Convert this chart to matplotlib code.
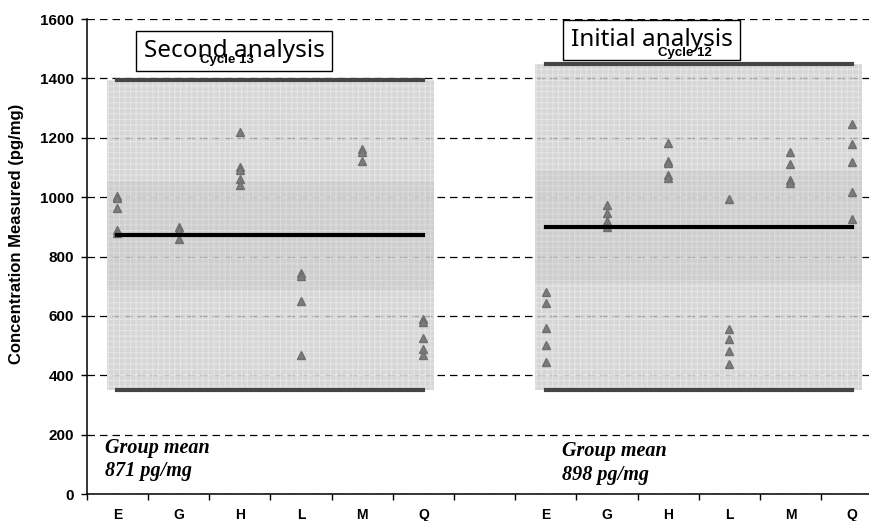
import numpy as np
import matplotlib.pyplot as plt
from matplotlib.patches import Rectangle

plt.rcParams['font.family'] = ['Liberation Sans', 'DejaVu Sans']
plt.rcParams['hatch.linewidth'] = 0.8

## laboratories, same order in both panels
labs = ['E', 'G', 'H', 'L', 'M', 'Q']
tick_labels = labs + [''] + labs

# second analysis (cycle 13), pg/mg
second_vals = [
    [1005, 998, 965, 888, 880],
    [900, 888, 860],
    [1218, 1100, 1090, 1060, 1040],
    [745, 735, 650, 468],
    [1162, 1152, 1122],
    [590, 580, 524, 490, 468],
]
# initial analysis (cycle 12), pg/mg
initial_vals = [
    [681, 642, 560, 502, 444],
    [975, 948, 920, 900],
    [1181, 1122, 1116, 1075, 1063],
    [995, 556, 522, 483, 437],
    [1153, 1110, 1057, 1048],
    [1246, 1178, 1119, 1018, 928],
]
second_mean = 871
initial_mean = 898
second_upper = 1395
initial_upper = 1450
lower_limit = 350

fig = plt.figure(figsize=(8.69, 5.21), dpi=100)
ax = fig.add_axes([0.0998, 0.0518, 0.9155, 0.9117])
ax.set_xlim(-0.5, 12.5)
ax.set_ylim(0, 1600)

for s in ['top', 'right']:
    ax.spines[s].set_visible(False)
ax.spines['left'].set_linewidth(1.1)
ax.spines['bottom'].set_linewidth(1.1)

ax.set_yticks(np.arange(0, 1601, 200))
ax.tick_params(axis='y', length=4, width=1, pad=5, labelsize=11)
for t in ax.get_yticklabels():
    t.set_fontweight('bold')
ax.set_axisbelow(True)
ax.yaxis.grid(True, color='black', lw=0.9, linestyle=(0, (6, 4)))

ax.set_xticks(np.arange(len(tick_labels)))
ax.set_xticklabels(tick_labels, fontweight='bold', fontsize=10)
ax.set_xticks(np.arange(-0.5, 13, 1), minor=True)
ax.tick_params(axis='x', which='major', length=0, pad=10)
ax.tick_params(axis='x', which='minor', length=4, width=1)

fig.text(17 / 869, 1 - 234 / 521, 'Concentration Measured (pg/mg)', rotation=90,
         ha='center', va='center', fontweight='bold', fontsize=12)

panels = [
    (0, second_vals, second_mean, second_upper, 'Second analysis', 'Cycle 13',
     (1.907, 1492), (1.79, 1463), (-0.2, 190)),
    (7, initial_vals, initial_mean, initial_upper, 'Initial analysis', 'Cycle 12',
     (8.73, 1530), (9.28, 1486), (7.26, 178)),
]

for x0, vals, mean, upper, title, cycle, tpos, cpos, gpos in panels:
    xs = x0 + np.arange(len(labs))
    # acceptance range shading
    ax.add_patch(Rectangle((xs[0] - 0.17, lower_limit), xs[-1] - xs[0] + 0.34,
                           upper - lower_limit, facecolor='#cccccc',
                           edgecolor='#e9e9e9', hatch='+++', lw=0, alpha=0.8, zorder=1))
    ax.add_patch(Rectangle((xs[0] - 0.17, mean * 0.79), xs[-1] - xs[0] + 0.34,
                           mean * 0.42, facecolor='#9a9a9a', lw=0, alpha=0.13, zorder=1.1))
    ax.plot([xs[0], xs[-1]], [upper, upper], color='#454545', lw=3, zorder=2)
    ax.plot([xs[0], xs[-1]], [lower_limit, lower_limit], color='#454545', lw=3, zorder=2)
    for x, v in zip(xs, vals):
        ax.plot([x] * len(v), v, '^', color='#7c7c7c', ms=6, mec='#6e6e6e', zorder=3)
    ax.plot([xs[0], xs[-1]], [mean, mean], color='black', lw=3, zorder=4)

    ax.text(tpos[0], tpos[1], title, ha='center', va='center', fontsize=17.5,
            family='Noto Sans', zorder=5,
            bbox=dict(boxstyle='square,pad=0.32', facecolor='white', edgecolor='black', lw=1))
    ax.text(cpos[0], cpos[1], cycle, ha='center', va='center', fontsize=9.5,
            fontweight='bold', zorder=6)
    ax.text(gpos[0], gpos[1], 'Group mean\n%d pg/mg' % mean, ha='left', va='top',
            family='Liberation Serif', fontweight='bold', style='italic',
            fontsize=14.5, linespacing=1.25)

fig.savefig('out.png', dpi=100)
